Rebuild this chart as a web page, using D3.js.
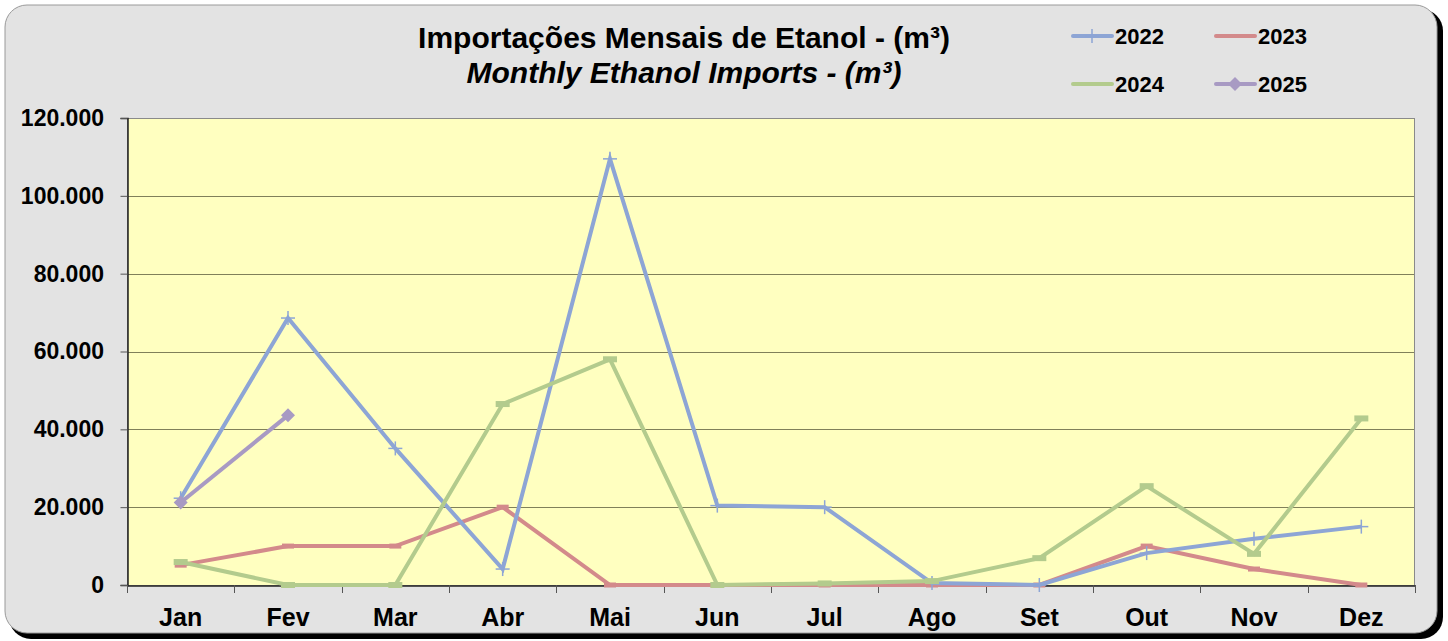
<!DOCTYPE html>
<html><head><meta charset="utf-8">
<script src="https://cdn.jsdelivr.net/npm/d3@7"></script>
<style>body{margin:0;background:#fff;}svg{display:block;font-family:"Liberation Sans",Arial,sans-serif;}</style>
</head><body><svg id="c" width="1448" height="641"></svg>
<script>
const months = ["Jan","Fev","Mar","Abr","Mai","Jun","Jul","Ago","Set","Out","Nov","Dez"];
const yTicks = [0,20000,40000,60000,80000,100000,120000];
const s2022 = [22300,68600,35100,4100,109500,20400,20000,500,0,8200,11900,15000];
const s2023 = [5100,10000,10000,20000,0,0,0,0,0,10000,4100,0];
const s2024 = [5900,0,0,46500,58000,0,400,1000,6900,25400,8000,42800];
const s2025 = [21200,43600];
const seriesNames = ["2022","2023","2024","2025"];
const colors = ["#8da5d5","#d38a8b","#b3cb8d","#a89ac3"];
const markers = ["plus","dash","bar","diamond"];

const svg = d3.select("#c");
// frame with shadow
svg.append("rect").attr("x",9).attr("y",9).attr("width",1434).attr("height",630).attr("rx",22).attr("fill","#000");
svg.append("rect").attr("x",5).attr("y",5).attr("width",1432).attr("height",628).attr("rx",22).attr("fill","#e3e3e3").attr("stroke","#9a9a9a").attr("stroke-width",1);

const L=127,R=1415,T=118,B=585;
const x = d3.scaleBand().domain(months).range([L,R]);
const y = d3.scaleLinear().domain([0,120000]).range([B,T]);
const fmt = v => d3.format(",")(v).replace(/,/g,".");

svg.append("rect").attr("x",L).attr("y",T).attr("width",R-L).attr("height",B-T).attr("fill","#ffffc0");
// grid
svg.append("g").selectAll("line").data(yTicks.filter(v=>v>0&&v<120000)).join("line")
  .attr("x1",L).attr("x2",R).attr("y1",d=>Math.round(y(d))+0.5).attr("y2",d=>Math.round(y(d))+0.5)
  .attr("stroke","#80805a").attr("stroke-width",1);
svg.append("rect").attr("x",L+0.5).attr("y",T+0.5).attr("width",R-L-1).attr("height",B-T).attr("fill","none").attr("stroke","#8a8a8a").attr("stroke-width",1);

// y axis
const ya = svg.append("g").attr("transform",`translate(${L+0.5},0)`)
  .call(d3.axisLeft(y).tickValues(yTicks).tickFormat(fmt).tickSize(7).tickPadding(16.5));
ya.select(".domain").attr("stroke","#222").attr("stroke-width",1.5);
ya.selectAll(".tick line").attr("stroke","#555");
ya.selectAll("text").attr("font-size",23).attr("font-weight","bold").attr("fill","#000").attr("font-family","'Liberation Sans',Arial,sans-serif");

// x axis
const xa = svg.append("g").attr("transform",`translate(0,${B+0.5})`)
  .call(d3.axisBottom(x).tickSize(0));
xa.select(".domain").attr("stroke","#222").attr("stroke-width",1.5);
xa.selectAll("text").attr("dy",null).attr("y",40).attr("font-size",25).attr("font-weight","bold").attr("fill","#000").attr("font-family","'Liberation Sans',Arial,sans-serif");
svg.append("g").selectAll("line").data(d3.range(13)).join("line")
  .attr("x1",i=>Math.round(L+i*x.step())+0.5).attr("x2",i=>Math.round(L+i*x.step())+0.5)
  .attr("y1",B).attr("y2",B+8).attr("stroke","#555");

const cx = i => x(months[i]) + x.bandwidth()/2;
function drawMarker(g, type, px, py, col){
  if(type==="plus"){
    g.append("line").attr("x1",px-7).attr("x2",px+7).attr("y1",py).attr("y2",py).attr("stroke",col).attr("stroke-width",1.5);
    g.append("line").attr("x1",px).attr("x2",px).attr("y1",py-7).attr("y2",py+7).attr("stroke",col).attr("stroke-width",1.5);
  } else if(type==="dash"){
    g.append("rect").attr("x",px-6).attr("y",py-2.5).attr("width",12).attr("height",5).attr("fill",col);
  } else if(type==="bar"){
    g.append("rect").attr("x",px-7).attr("y",py-3).attr("width",14).attr("height",6).attr("fill",col);
  } else {
    g.append("path").attr("d",`M${px},${py-7}L${px+7},${py}L${px},${py+7}L${px-7},${py}Z`).attr("fill",col);
  }
}
const allSeries = [s2022,s2023,s2024,s2025];
const line = d3.line().x((d,i)=>cx(i)).y(d=>y(d));
[1,0,2,3].forEach(k=>{
  const g = svg.append("g");
  g.append("path").datum(allSeries[k]).attr("d",line).attr("fill","none").attr("stroke",colors[k]).attr("stroke-width",4).attr("stroke-linejoin","miter");
  allSeries[k].forEach((v,i)=>drawMarker(g,markers[k],cx(i),y(v),colors[k]));
});

// title
svg.append("text").attr("x",684).attr("y",48).attr("text-anchor","middle").attr("font-size",30).attr("font-weight","bold").text("Importações Mensais de Etanol - (m³)");
svg.append("text").attr("x",684).attr("y",83).attr("text-anchor","middle").attr("font-size",30).attr("font-weight","bold").attr("font-style","italic").text("Monthly Ethanol Imports - (m³)");

// legend
const legPos = [[1073,36],[1216,36],[1073,84],[1216,84]];
seriesNames.forEach((n,k)=>{
  const [lx,ly]=legPos[k];
  const g = svg.append("g");
  g.append("line").attr("x1",lx).attr("x2",lx+39).attr("y1",ly).attr("y2",ly).attr("stroke",colors[k]).attr("stroke-width",4).attr("stroke-linecap","round");
  if(k===0) drawMarker(g,"plus",lx+19,ly,colors[k]);
  if(k===3) drawMarker(g,"diamond",lx+19,ly,colors[k]);
  g.append("text").attr("x",lx+42).attr("y",ly+8).attr("font-size",22).attr("font-weight","bold").text(n);
});
</script></body></html>
